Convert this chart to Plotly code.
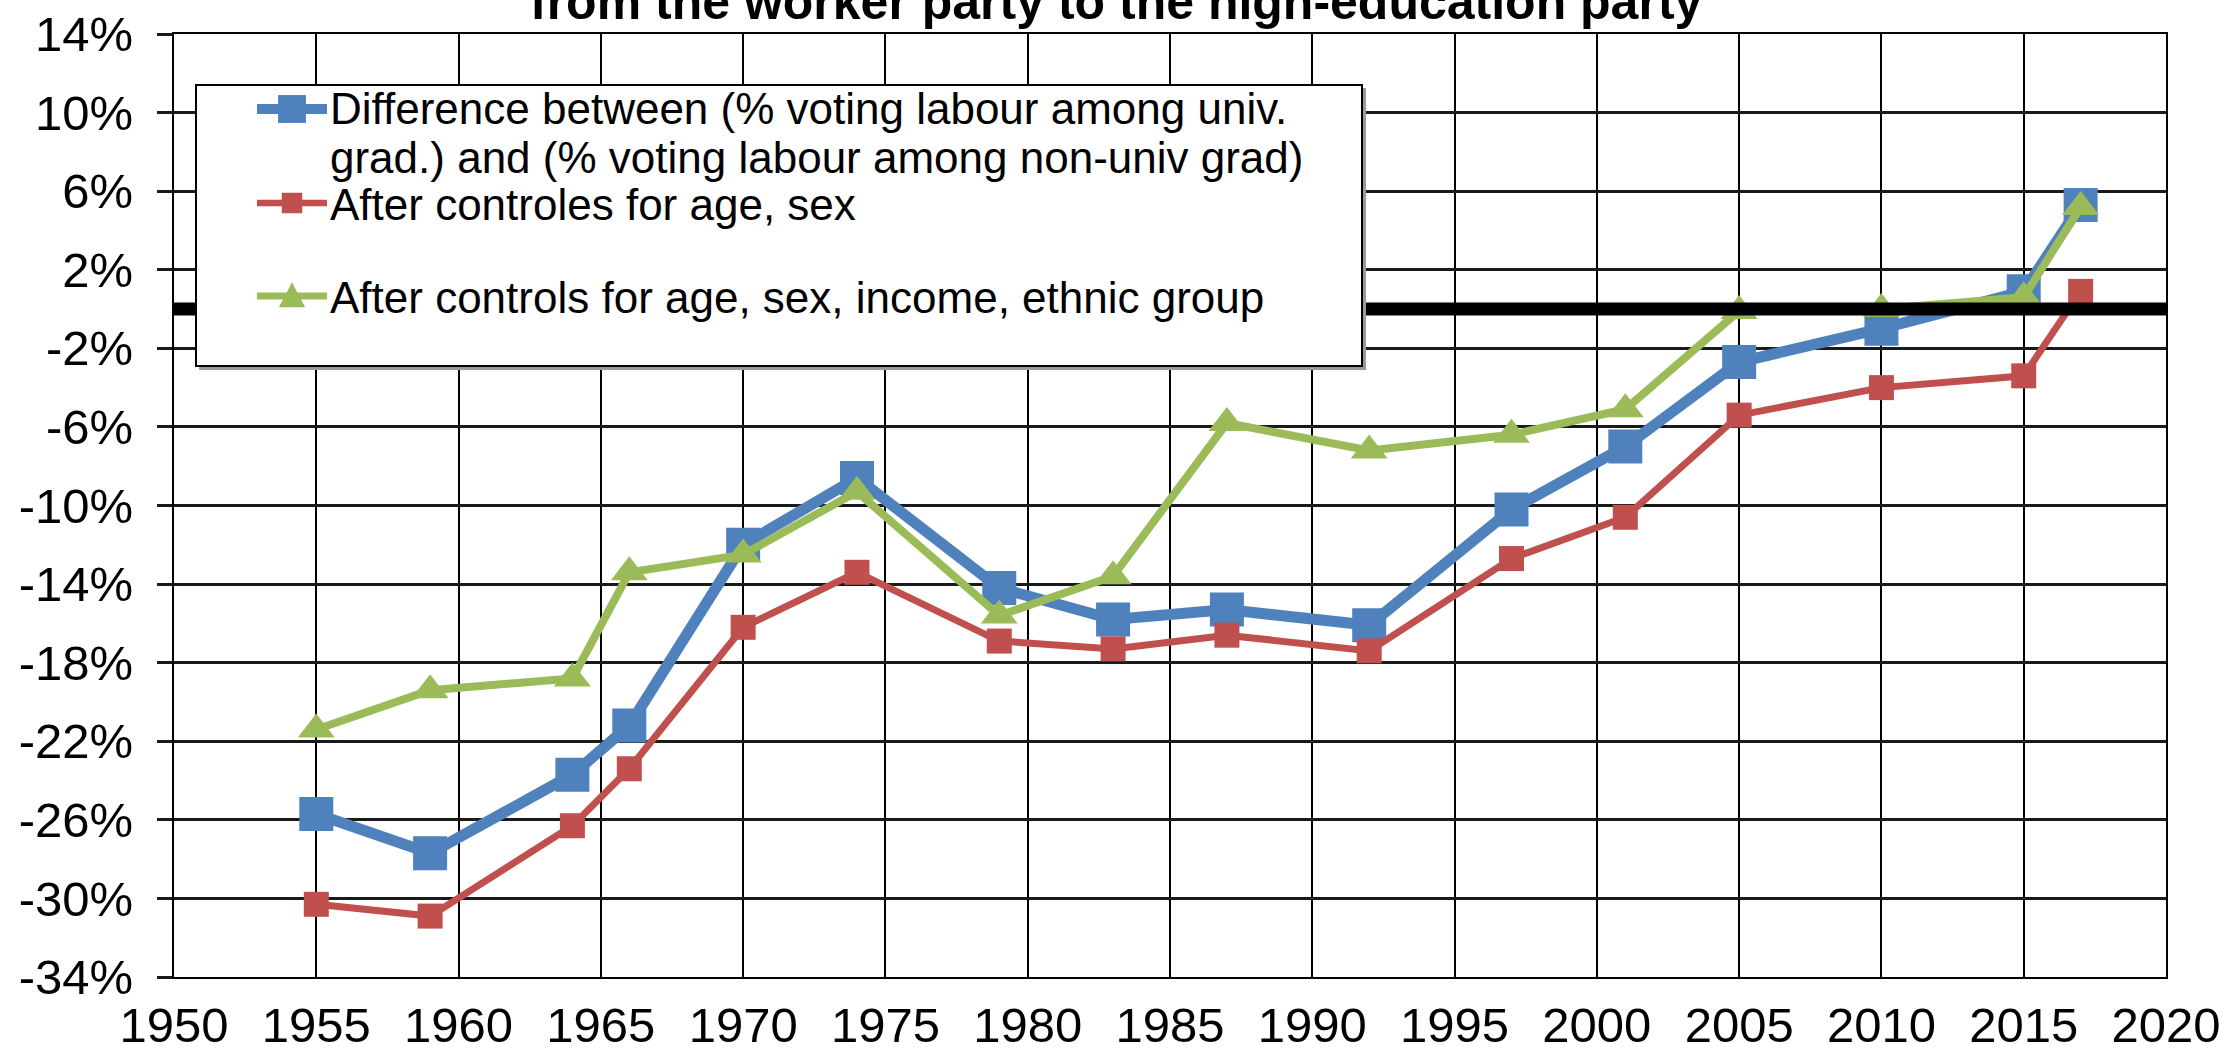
import plotly.graph_objects as go

# UK general elections
years = [1955, 1959, 1964, 1966, 1970, 1974, 1979, 1983, 1987, 1992,
         1997, 2001, 2005, 2010, 2015, 2017]

# Gap in Labour vote (univ. graduates minus non-graduates), in %
gap_raw = [-25.7, -27.7, -23.7, -21.2, -12.0, -8.6, -14.2, -15.8, -15.3, -16.1,
           -10.2, -7.0, -2.7, -1.0, 0.9, 5.3]
gap_age_sex = [-30.3, -30.9, -26.3, -23.4, -16.2, -13.4, -16.9, -17.3, -16.6, -17.4,
               -12.7, -10.6, -5.4, -4.0, -3.4, 0.9]
gap_full = [-21.4, -19.4, -18.8, -13.4, -12.5, -9.3, -15.6, -13.6, -5.8, -7.2,
            -6.4, -5.1, -0.1, 0.0, 0.6, 5.2]

series_names = [
    "Difference between (% voting labour among univ.<br>grad.) and (% voting labour among non-univ grad)",
    "After controles for age, sex",
    "After controls for age, sex, income, ethnic group",
]
series_values = [gap_raw, gap_age_sex, gap_full]
series_colors = ["#4F81BD", "#C0504D", "#9BBB59"]
series_symbols = ["square", "square", "triangle-up"]
line_widths = [11, 7, 8]
marker_sizes = [34, 25, 32]

x_ticks = list(range(1950, 2021, 5))
x_tick_labels = [str(v) for v in x_ticks]
y_ticks = list(range(-34, 15, 4))
y_tick_labels = [f"{v}%" for v in y_ticks]

title_text = "from the worker party to the high-education party"

FONT = "Liberation Sans, Arial, sans-serif"
W, H = 2231, 1057
L, R, T, B = 174, 65, 34, 80
PW, PH = W - L - R, H - T - B


def px_x(px):
    return (px - L) / PW


def px_y(py):
    return (H - B - py) / PH


fig = go.Figure()
for name, vals, col, sym, lw, ms in zip(series_names, series_values, series_colors,
                                        series_symbols, line_widths, marker_sizes):
    fig.add_trace(go.Scatter(
        x=years, y=vals, name=name.replace("<br>", " "), mode="lines+markers",
        line=dict(color=col, width=lw),
        marker=dict(symbol=sym, size=ms, color=col, line=dict(width=0)),
        showlegend=False,
    ))

shapes = [
    # heavy reference line at zero, drawn over the series
    dict(type="line", xref="x", yref="y", x0=1950, x1=2020, y0=0, y1=0,
         line=dict(color="black", width=13), layer="above"),
    # legend frame with a soft shadow
    dict(type="rect", xref="paper", yref="paper",
         x0=px_x(199), x1=px_x(1366), y0=px_y(370), y1=px_y(88),
         fillcolor="#9a9a9a", line=dict(width=0), layer="above"),
    dict(type="rect", xref="paper", yref="paper",
         x0=px_x(196), x1=px_x(1362), y0=px_y(366), y1=px_y(85),
         fillcolor="white", line=dict(color="black", width=2), layer="above"),
]

annotations = []
# legend entries: symbol row, then one row per text line
sym_rows = [109, 203, 296]
text_rows = [[108, 157], [204], [297]]
for name, col, sym, lw, ms, sy, rows in zip(series_names, series_colors, series_symbols,
                                            line_widths, marker_sizes, sym_rows, text_rows):
    shapes.append(dict(type="line", xref="paper", yref="paper",
                       x0=px_x(257), x1=px_x(327), y0=px_y(sy), y1=px_y(sy),
                       line=dict(color=col, width=lw * 0.9), layer="above"))
    half = ms * 0.41
    if sym == "square":
        shapes.append(dict(type="rect", xref="paper", yref="paper",
                           x0=px_x(292 - half), x1=px_x(292 + half),
                           y0=px_y(sy + half), y1=px_y(sy - half),
                           fillcolor=col, line=dict(width=0), layer="above"))
    else:
        x0, x1, xm = px_x(292 - half), px_x(292 + half), px_x(292)
        y0, y1 = px_y(sy + half * 0.85), px_y(sy - half * 1.05)
        shapes.append(dict(type="path", xref="paper", yref="paper",
                           path=f"M {x0},{y0} L {x1},{y0} L {xm},{y1} Z",
                           fillcolor=col, line=dict(width=0), layer="above"))
    for line_text, ty in zip(name.split("<br>"), rows):
        annotations.append(dict(
            xref="paper", yref="paper", x=px_x(328), y=px_y(ty),
            xanchor="left", yanchor="middle", align="left", showarrow=False,
            text=line_text, font=dict(family=FONT, size=44, color="black"),
        ))

annotations.append(dict(
    xref="paper", yref="paper", x=px_x(1116), y=px_y(2), xanchor="center",
    yanchor="middle", showarrow=False, text=f"<b>{title_text}</b>",
    font=dict(family=FONT, size=50, color="black"),
))

fig.update_layout(
    width=W, height=H,
    margin=dict(l=L, r=R, t=T, b=B, autoexpand=False),
    paper_bgcolor="white", plot_bgcolor="white",
    font=dict(family=FONT, size=49, color="black"),
    shapes=shapes, annotations=annotations,
    showlegend=False,
)
fig.update_xaxes(
    range=[1950, 2020], tickvals=x_ticks, ticktext=x_tick_labels,
    showgrid=True, gridcolor="black", gridwidth=1.6,
    showline=True, linecolor="black", linewidth=2, mirror=True,
    ticks="", zeroline=False, ticklabelstandoff=4, automargin=False,
    tickfont=dict(family=FONT, size=49),
)
fig.update_yaxes(
    range=[-34, 14], tickvals=y_ticks, ticktext=y_tick_labels,
    showgrid=True, gridcolor="#1a1a1a", gridwidth=2.6,
    showline=True, linecolor="black", linewidth=2, mirror=True,
    ticks="outside", ticklen=15, tickwidth=2.6, tickcolor="#1a1a1a",
    zeroline=False, ticklabelstandoff=14, automargin=False,
    tickfont=dict(family=FONT, size=49),
)

fig.write_html("out.html")
